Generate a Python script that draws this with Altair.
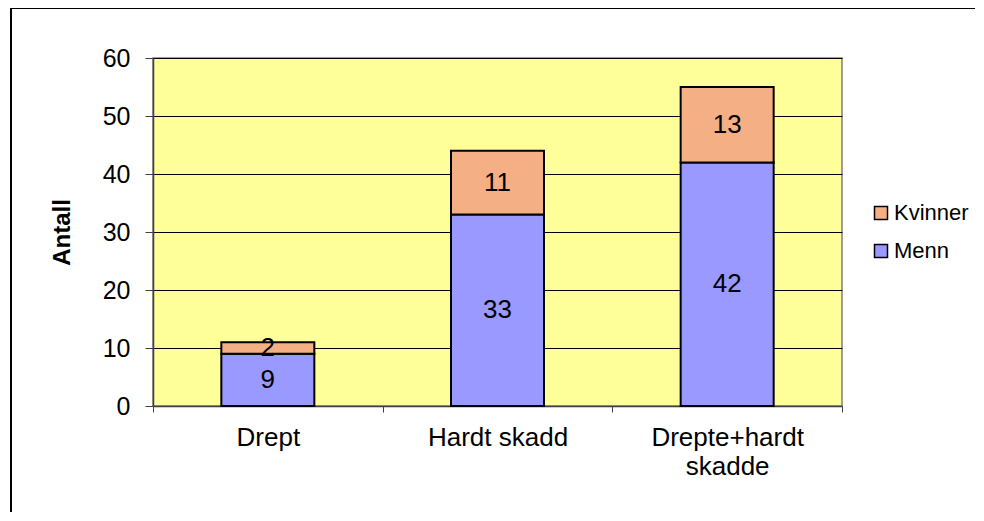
import altair as alt
import pandas as pd

categories = ["Drept", "Hardt skadd", "Drepte+hardt skadde"]
menn = [9, 33, 42]
kvinner = [2, 11, 13]
series = ["Kvinner", "Menn"]
colors = ["#F4B084", "#9999FF"]

rows = []
for c, m, k in zip(categories, menn, kvinner):
    rows.append({"kat": c, "kjonn": "Menn", "verdi": m, "y0": 0, "y1": m})
    rows.append({"kat": c, "kjonn": "Kvinner", "verdi": k, "y0": m, "y1": m + k})
df = pd.DataFrame(rows)
df["mid"] = (df["y0"] + df["y1"]) / 2

W, H = 689, 348
FONT = "Liberation Sans"

x = alt.X("kat:N", sort=categories, title=None,
          scale=alt.Scale(paddingInner=0, paddingOuter=0),
          axis=alt.Axis(labelAngle=0, tickBand="extent", labelFontSize=26,
                        labelFont=FONT, labelColor="#000000", labelPadding=12,
                        labelExpr="datum.value == 'Drepte+hardt skadde' ? ['Drepte+hardt', 'skadde'] : datum.value",
                        labelLineHeight=29, domainColor="#404040", tickColor="#404040",
                        tickSize=6, domainWidth=1.5, grid=False))

bars = alt.Chart(df).mark_bar(size=93, stroke="#000000", strokeWidth=2).encode(
    x=x,
    y=alt.Y("y0:Q", title="Antall",
            scale=alt.Scale(domain=[0, 60]),
            axis=alt.Axis(values=[0, 10, 20, 30, 40, 50, 60], labelFontSize=25,
                          labelFont=FONT, labelColor="#000000", labelPadding=15,
                          titleFont=FONT, titleFontSize=24, titleFontWeight="bold",
                          titleColor="#000000", titlePadding=28,
                          domainColor="#404040", domainWidth=1.5, tickColor="#404040",
                          tickSize=8, grid=True, gridColor="#000000", gridWidth=1)),
    y2="y1:Q",
    color=alt.Color("kjonn:N", scale=alt.Scale(domain=series, range=colors),
                    legend=alt.Legend(title=None, orient="none", legendX=W + 28, legendY=144,
                                      symbolType="square", symbolSize=169,
                                      symbolStrokeColor="#000000", symbolStrokeWidth=1.5,
                                      labelFont=FONT, labelFontSize=22, labelColor="#000000",
                                      rowPadding=16, labelOffset=2)),
)

labels = alt.Chart(df).mark_text(fontSize=26, font=FONT, color="#000000", baseline="middle").encode(
    x=alt.X("kat:N", sort=categories),
    y=alt.Y("mid:Q"),
    text="verdi:Q",
)

frame_left = alt.Chart(df).mark_rule(stroke="#000000", strokeWidth=1.5).encode(
    x=alt.value(-142), y=alt.value(-50), y2=alt.value(H + 106)
)
frame_top = alt.Chart(df).mark_rule(stroke="#000000", strokeWidth=1.5).encode(
    x=alt.value(-142), x2=alt.value(W + 133), y=alt.value(-50)
)

chart = alt.layer(bars, labels, frame_left, frame_top).properties(
    width=W, height=H,
    autosize=alt.AutoSizeParams(type="none"),
    padding={"left": 145, "top": 50, "right": 134, "bottom": 107},
).configure_view(fill="#FFFF99", stroke="#808080", strokeWidth=1.5)

chart.save("out.html", embed_options={"renderer": "svg", "actions": False})
